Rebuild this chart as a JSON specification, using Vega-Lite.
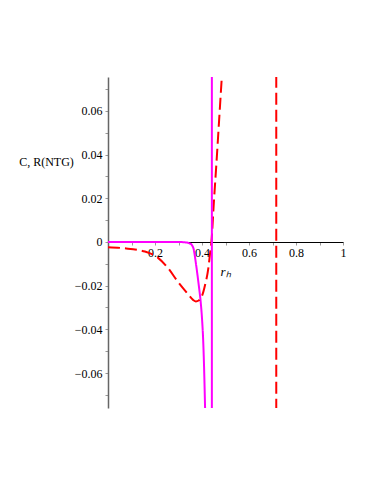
{
  "$schema": "https://vega.github.io/schema/vega-lite/v6.json",
  "width": 235,
  "height": 331,
  "autosize": {"type": "none"},
  "padding": {"left": 108, "top": 77, "right": 31, "bottom": 76},
  "background": "white",
  "config": {"view": {"stroke": null}, "font": "Liberation Serif",
    "axis": {"labelFont": "Liberation Serif", "titleFont": "Liberation Serif"}},
  "data": {"values": [
    {"s": "C1", "g": "C", "k": "curve", "x": 0, "y": 0},
    {"s": "C1", "g": "C", "k": "curve", "x": 0.2, "y": 0},
    {"s": "C1", "g": "C", "k": "curve", "x": 0.3, "y": 0},
    {"s": "C1", "g": "C", "k": "curve", "x": 0.33, "y": -0.0002},
    {"s": "C1", "g": "C", "k": "curve", "x": 0.35, "y": -0.0008},
    {"s": "C1", "g": "C", "k": "curve", "x": 0.358, "y": -0.0016},
    {"s": "C1", "g": "C", "k": "curve", "x": 0.365, "y": -0.0035},
    {"s": "C1", "g": "C", "k": "curve", "x": 0.373, "y": -0.009},
    {"s": "C1", "g": "C", "k": "curve", "x": 0.38, "y": -0.0145},
    {"s": "C1", "g": "C", "k": "curve", "x": 0.387, "y": -0.0205},
    {"s": "C1", "g": "C", "k": "curve", "x": 0.394, "y": -0.027},
    {"s": "C1", "g": "C", "k": "curve", "x": 0.4, "y": -0.035},
    {"s": "C1", "g": "C", "k": "curve", "x": 0.405, "y": -0.045},
    {"s": "C1", "g": "C", "k": "curve", "x": 0.409, "y": -0.058},
    {"s": "C1", "g": "C", "k": "curve", "x": 0.413, "y": -0.0755},
    {"s": "C1", "g": "C", "k": "curve", "x": 0.415, "y": -0.085},
    {"s": "C2", "g": "C", "k": "pole", "x": 0.442, "y": -0.085},
    {"s": "C2", "g": "C", "k": "pole", "x": 0.442, "y": 0.085},
    {"s": "R1", "g": "R", "k": "curve", "x": 0, "y": -0.0024},
    {"s": "R1", "g": "R", "k": "curve", "x": 0.07, "y": -0.0029},
    {"s": "R1", "g": "R", "k": "curve", "x": 0.157, "y": -0.0044},
    {"s": "R1", "g": "R", "k": "curve", "x": 0.213, "y": -0.0073},
    {"s": "R1", "g": "R", "k": "curve", "x": 0.255, "y": -0.0119},
    {"s": "R1", "g": "R", "k": "curve", "x": 0.298, "y": -0.0183},
    {"s": "R1", "g": "R", "k": "curve", "x": 0.336, "y": -0.0233},
    {"s": "R1", "g": "R", "k": "curve", "x": 0.362, "y": -0.0265},
    {"s": "R1", "g": "R", "k": "curve", "x": 0.374, "y": -0.0272},
    {"s": "R1", "g": "R", "k": "curve", "x": 0.386, "y": -0.0268},
    {"s": "R1", "g": "R", "k": "curve", "x": 0.399, "y": -0.025},
    {"s": "R1", "g": "R", "k": "curve", "x": 0.413, "y": -0.0197},
    {"s": "R1", "g": "R", "k": "curve", "x": 0.427, "y": -0.012},
    {"s": "R1", "g": "R", "k": "curve", "x": 0.434, "y": -0.0055},
    {"s": "R1", "g": "R", "k": "curve", "x": 0.44, "y": 0},
    {"s": "R1", "g": "R", "k": "curve", "x": 0.451, "y": 0.019},
    {"s": "R1", "g": "R", "k": "curve", "x": 0.462, "y": 0.037},
    {"s": "R1", "g": "R", "k": "curve", "x": 0.473, "y": 0.056},
    {"s": "R1", "g": "R", "k": "curve", "x": 0.4835, "y": 0.0741},
    {"s": "R2", "g": "R", "k": "pole", "x": 0.716, "y": -0.085},
    {"s": "R2", "g": "R", "k": "pole", "x": 0.716, "y": 0.085}
  ]},
  "encoding": {
    "x": {
      "field": "x", "type": "quantitative",
      "scale": {"domain": [0, 1], "nice": false, "zero": false},
      "axis": {
        "orient": "bottom", "offset": -166,
        "values": [0.1, 0.2, 0.3, 0.4, 0.5, 0.6, 0.7, 0.8, 0.9, 1.0],
        "labelExpr": "round(datum.value*10)%2==0 ? format(datum.value,'~g') : ''",
        "labelFlush": false, "labelOverlap": false,
        "labelFont": "Liberation Serif", "titleFont": "Liberation Serif",
        "domainColor": "black", "domainWidth": 1,
        "tickColor": "#999", "tickSize": 3, "labelPadding": 2,
        "labelFontSize": 12, "labelColor": "black", "grid": false,
        "title": "rₕ", "titleFontStyle": "italic", "titleFontWeight": "normal",
        "titleFontSize": 13, "titleColor": "black",
        "titleX": 117, "titleY": 29, "titleAlign": "center", "titleBaseline": "middle"
      }
    },
    "y": {
      "field": "y", "type": "quantitative",
      "scale": {"domain": [-0.076, 0.0755], "nice": false, "zero": false},
      "axis": {
        "orient": "left",
        "values": [-0.07, -0.06, -0.05, -0.04, -0.03, -0.02, -0.01, 0, 0.01, 0.02, 0.03, 0.04, 0.05, 0.06, 0.07],
        "labelExpr": "round(datum.value*100)%2==0 ? format(datum.value,'.2~f') : ''",
        "labelFlush": false, "labelOverlap": false,
        "labelFont": "Liberation Serif", "titleFont": "Liberation Serif",
        "domainColor": "#666", "domainWidth": 1.5,
        "tickColor": "#999", "tickSize": 3, "labelPadding": 3,
        "labelFontSize": 12, "labelColor": "black", "grid": false,
        "title": "C, R(NTG)", "titleAngle": 0, "titleFontWeight": "normal",
        "titleFontSize": 12, "titleColor": "black",
        "titleX": -62, "titleY": 84, "titleAlign": "center", "titleBaseline": "middle"
      }
    },
    "color": {"field": "g", "type": "nominal", "scale": {"domain": ["C", "R"], "range": ["#ff00ff", "#ff0000"]}, "legend": null},
    "strokeDash": {"field": "g", "type": "nominal", "scale": {"domain": ["C", "R"], "range": [[1, 0], [12, 5]]}, "legend": null},
    "detail": {"field": "s", "type": "nominal"}
  },
  "layer": [
    {
      "transform": [{"filter": "datum.k == 'curve'"}],
      "mark": {"type": "line", "clip": true, "strokeWidth": 2, "interpolate": "monotone"}
    },
    {
      "transform": [{"filter": "datum.k == 'pole'"}],
      "mark": {"type": "line", "clip": true, "strokeWidth": 2}
    }
  ]
}
